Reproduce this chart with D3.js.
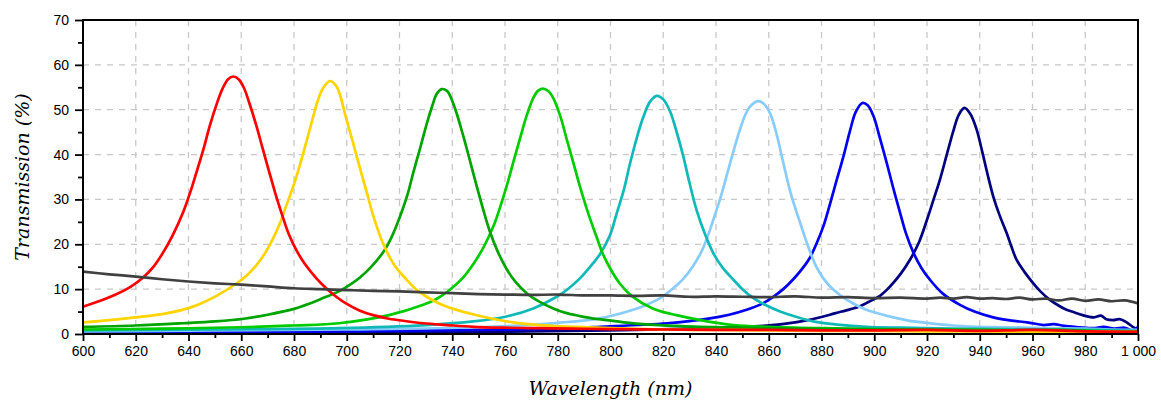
<!DOCTYPE html>
<html>
<head>
<meta charset="utf-8">
<script src="https://cdn.jsdelivr.net/npm/d3@7"></script>
<style>
  body { margin: 0; background: #fff; }
  svg { display: block; }
</style>
</head>
<body>
<div id="chart"></div>
<script>
// ---------------- data ----------------
const xTicks = [600,620,640,660,680,700,720,740,760,780,800,820,840,860,880,900,920,940,960,980,1000];
const xTickLabels = ["600","620","640","660","680","700","720","740","760","780","800","820","840","860","880","900","920","940","960","980","1 000"];
const yTicks = [0,10,20,30,40,50,60,70];
const yTickLabels = ["0","10","20","30","40","50","60","70"];
const xMinorTicks = [610,630,650,670,690,710,730,750,770,790,810,830,850,870,890,910,930,950,970,990];
const yMinorTicks = [5,15,25,35,45,55,65];

const seriesNames = ["navy","blue","lightblue","cyan","green2","green1","yellow","red","gray"];
const seriesColors = ["#00007f","#0000f0","#88ccfa","#10b8b8","#00cc00","#00a400","#ffd400","#ff0000","#404040"];

const navy = [[600,0.2],[700,0.3],[760,0.5],[800,0.8],[830,1.2],[858,1.8],[870,2.6],[880,3.8],[885,4.6],[890.8,5.5],[894.6,6.2],[898,7.2],[902.2,8.5],[906,10.6],[910,13.4],[913.6,16.6],[917,20.5],[919.9,25.3],[922.5,30],[925,34.6],[927.5,40],[930,45.3],[932,48.8],[934.2,50.4],[936.5,49],[938.8,45.6],[941,40.5],[943,35.5],[945.1,30.7],[947.5,26.5],[950.2,22.5],[952,19.5],[954,16.5],[957,13.8],[960.3,11.3],[963,9.5],[966.6,7.6],[970,6.3],[972.9,5.4],[976,4.8],[979,4.2],[983,3.7],[986,4.1],[988,3.3],[990.6,3.1],[993,3.3],[995.7,2.6],[998,1.6],[999.5,1.2],[1000,1.7]];
const blue = [[600,0.3],[650,0.4],[700,0.6],[750,0.9],[780,1.2],[796,1.6],[821.3,2.4],[837.7,3.5],[845,4.3],[851.6,5.4],[857,6.6],[861.7,8.3],[865.5,10],[869.3,12.2],[872.5,14.4],[875.6,17],[878,20],[880.7,24],[883,28.5],[885.8,34.4],[888.5,40],[890.8,45.3],[893,49.5],[895.5,51.5],[897.5,51],[899.7,48.6],[902,44],[904.7,38.2],[907,33],[909.8,27],[912,22.5],[914.8,18.2],[918,14.6],[921.1,12.1],[926,9],[932.5,6.5],[938,5],[945.1,3.7],[952,3.0],[958,2.6],[964.1,2.0],[968,2.2],[972,1.8],[978,1.5],[983,1.3],[987,1.6],[991,1.2],[995,1.4],[998,0.8],[1000,1.5]];
const lightblue = [[600,0.6],[650,0.8],[700,1.0],[750,1.5],[780,2.5],[796,3.5],[808.6,5.4],[814,6.6],[818.8,8.0],[823,9.8],[827.6,12.3],[831,14.9],[834,17.8],[836.5,21.2],[839,25.5],[841.5,30],[844,35.2],[846.5,40.5],[849.1,45.6],[851,48.7],[852.9,50.7],[855.9,51.9],[858,51.4],[860.5,49.2],[863,44.5],[865.5,38.2],[868.5,31],[871.9,24.8],[875,19.4],[878.2,14.8],[882,11.4],[887,8.7],[892,6.8],[897,5.4],[902,4.5],[907.2,3.7],[913,3.0],[919.9,2.5],[930,1.9],[938.8,1.6],[950,1.5],[967,1.3],[980,1.2],[990,1.0],[1000,0.9]];
const cyan = [[600,0.8],[650,1.0],[697,1.3],[730,2.0],[748,2.8],[760.6,3.9],[770.7,5.7],[779.6,8.3],[784,10.1],[788.4,12.4],[792,14.8],[796,17.8],[799.8,22],[802.3,26.8],[805,32],[807.4,38],[810,43.8],[812.4,48.3],[815,51.8],[817.5,53.1],[820,52.3],[822.6,49.6],[825,45.2],[827.6,39.6],[830,33.6],[832.7,27.5],[836,22],[839,18],[842.5,14.8],[846.6,12.1],[850,10],[854.2,8.0],[859,6.4],[864.3,5.0],[870,3.9],[876.9,2.8],[886,2.1],[897,1.6],[910,1.4],[930,1.2],[950,1.1],[970,1.0],[985,0.9],[1000,0.7]];
const green2 = [[600,1.0],[630,1.2],[660,1.5],[680,1.9],[697,2.4],[716,4.2],[729,6.5],[734,7.8],[739,9.8],[744,12.5],[748,15.6],[752,19.5],[755.6,24],[758,28],[760.6,32.9],[763,38],[765.7,43.6],[768,48.3],[770.7,52.6],[772.5,54.2],[774.3,54.7],[776.5,54.1],[778.3,52.6],[781,48.5],[783.4,43.4],[786,38],[788.4,32.9],[791.5,27],[794.8,21.5],[797,18],[800,14.5],[803.6,11.2],[808,8.5],[816,5.7],[825,4.2],[834,3.1],[846.6,2.0],[860,1.6],[880,1.3],[900,1.1],[920,1.0],[940,0.9],[960,0.8],[980,0.7],[1000,0.6]];
const green1 = [[600,1.6],[620,1.9],[638,2.4],[650,2.8],[661,3.4],[670,4.3],[680,5.6],[686,6.8],[691,8.0],[697,9.5],[702,11.3],[705,12.6],[709,14.8],[714,18.4],[717,21.6],[720.2,26.2],[723,31],[725.2,35.9],[728,41.8],[730.3,46.8],[732.5,51],[734.1,53.5],[736,54.6],[738,54.2],[739.1,53.2],[741.5,49.5],[744.2,44.1],[747,38],[749.3,32.9],[752,27.2],[754.3,22.8],[757,18.7],[760.6,14.5],[764,11.6],[768.2,9.1],[773,7.2],[778.3,5.7],[783,4.7],[788.4,4.0],[793,3.5],[798.6,3.1],[805,2.6],[815,2.1],[825,1.8],[834,1.6],[850,1.4],[870,1.2],[890,1.1],[910,1.0],[930,0.9],[950,0.8],[970,0.9],[985,0.6],[1000,0.5]];
const yellow = [[600,2.6],[610,3.1],[620,3.7],[631.6,4.6],[641.7,6.1],[650.6,8.5],[658,11.2],[662,13],[665.7,15.3],[669,18],[672,21.2],[675,25.2],[677,28.5],[680,33.4],[682.2,37.6],[685,43.5],[687.2,48.3],[689,52],[691,54.8],[693.6,56.4],[696,55.3],[697.4,53.4],[699.5,48.7],[702.5,42.4],[705,37],[707.6,31.5],[710.5,25.5],[713.9,20],[718,15.4],[722.7,12.1],[726,10.1],[730.3,8.3],[735,6.8],[740.4,5.6],[747,4.5],[754.3,3.5],[763,2.6],[773,2.0],[786,1.6],[800,1.3],[820,1.0],[840,0.9],[860,0.8],[880,0.7],[900,0.7],[920,0.6],[940,0.6],[960,0.5],[980,0.6],[1000,0.4]];
const red = [[600,6.1],[606,7.3],[612,8.7],[618,10.5],[623,12.7],[627,15.2],[630,17.8],[634,22],[638,27.2],[641,32.2],[643,36],[646,41.9],[648,46.3],[651,51.8],[653,54.8],[655,56.8],[657,57.4],[659,56.8],[661,54.9],[663,51.6],[665.7,46.5],[668,41.6],[670.8,35.7],[673,31.2],[675.8,26],[678,22.3],[681,18.6],[684,15.7],[688.5,12.4],[692,10.3],[696,8.3],[700,6.7],[705,5.2],[710,4.2],[716,3.4],[722,2.9],[729,2.4],[738,2.0],[748,1.6],[760,1.4],[773,1.3],[786,1.2],[800,1.1],[820,1.0],[840,0.9],[860,0.9],[880,0.8],[900,0.8],[920,0.9],[940,0.7],[960,0.9],[980,0.6],[1000,0.5]];
const gray = [[600,13.9],[610,13.3],[620,12.8],[630,12.2],[640,11.7],[650,11.3],[660,11.0],[670,10.6],[680,10.2],[690,10.0],[700,9.8],[710,9.6],[720,9.5],[730,9.3],[740,9.1],[750,8.9],[760,8.8],[770,8.7],[780,8.8],[790,8.6],[800,8.6],[810,8.5],[820,8.6],[830,8.3],[840,8.4],[850,8.3],[860,8.2],[870,8.4],[880,8.1],[890,8.2],[900,8.0],[910,8.1],[920,7.9],[925,8.1],[930,7.9],[935,8.2],[940,7.9],[945,8.0],[950,7.8],[955,8.1],[960,7.7],[965,7.9],[970,7.5],[975,7.9],[980,7.4],[985,7.7],[990,7.3],[995,7.5],[1000,6.8]];

const seriesData = [navy, blue, lightblue, cyan, green2, green1, yellow, red, gray];

const xTitle = "Wavelength (nm)";
const yTitle = "Transmission (%)";

// ---------------- drawing ----------------
const W = 1161, H = 403;
const margin = {left: 83, right: 23, top: 20, bottom: 69};
const iw = W - margin.left - margin.right;
const ih = H - margin.top - margin.bottom;

const x = d3.scaleLinear().domain([600, 1000]).range([0, iw]);
const y = d3.scaleLinear().domain([0, 70]).range([ih, 0]);

const svg = d3.select("#chart").append("svg").attr("width", W).attr("height", H);
const g = svg.append("g").attr("transform", `translate(${margin.left},${margin.top})`);

const defs = svg.append("defs");
defs.append("clipPath").attr("id", "clip").append("rect").attr("x", 0).attr("y", 0).attr("width", iw).attr("height", ih);

// grid
const grid = g.append("g").attr("stroke", "#c8c8c8").attr("stroke-width", 1.3).attr("stroke-dasharray", "6,6");
grid.selectAll("line.vx").data(xTicks.filter(t => t > 600 && t < 1000)).enter().append("line")
  .attr("x1", d => x(d)).attr("x2", d => x(d)).attr("y1", 0).attr("y2", ih);
grid.selectAll("line.hy").data(yTicks.filter(t => t > 0 && t < 70)).enter().append("line")
  .attr("y1", d => y(d)).attr("y2", d => y(d)).attr("x1", 0).attr("x2", iw);

// series
const line = d3.line().x(d => x(d[0])).y(d => y(d[1])).curve(d3.curveCatmullRom.alpha(0.5));
const plot = g.append("g").attr("clip-path", "url(#clip)");
seriesData.forEach((s, i) => {
  plot.append("path").datum(s)
    .attr("fill", "none")
    .attr("stroke", seriesColors[i])
    .attr("stroke-width", 2.7)
    .attr("stroke-linejoin", "round")
    .attr("d", line);
});

// axes
const fmtX = d => xTickLabels[xTicks.indexOf(d)];
const fmtY = d => yTickLabels[yTicks.indexOf(d)];

const xAxis = g.append("g").attr("transform", `translate(0,${ih})`)
  .call(d3.axisBottom(x).tickValues(xTicks).tickFormat(fmtX).tickSize(7).tickPadding(5));
const xMinor = g.append("g").attr("transform", `translate(0,${ih})`)
  .call(d3.axisBottom(x).tickValues(xMinorTicks).tickFormat("").tickSize(4));
const yAxis = g.append("g")
  .call(d3.axisLeft(y).tickValues(yTicks).tickFormat(fmtY).tickSize(8).tickPadding(6));
const yMinor = g.append("g")
  .call(d3.axisLeft(y).tickValues(yMinorTicks).tickFormat("").tickSize(5));

[xAxis, xMinor, yAxis, yMinor].forEach(a => {
  a.select(".domain").remove();
  a.selectAll(".tick line").attr("stroke", "#000").attr("stroke-width", 1.8);
  a.selectAll(".tick text").attr("fill", "#000")
    .style("font-family", "'Liberation Sans', Arial, sans-serif").style("font-size", "14px");
});

// frame
g.append("rect").attr("x", 0).attr("y", 0).attr("width", iw).attr("height", ih)
  .attr("fill", "none").attr("stroke", "#000").attr("stroke-width", 2);

// titles
svg.append("text")
  .attr("x", margin.left + iw / 2).attr("y", 395)
  .attr("text-anchor", "middle")
  .style("font-family", "'DejaVu Serif', serif").style("font-style", "italic").style("font-size", "19px")
  .text(xTitle);

svg.append("text")
  .attr("transform", `translate(29,${margin.top + ih / 2}) rotate(-90)`)
  .attr("text-anchor", "middle")
  .style("font-family", "'DejaVu Serif', serif").style("font-style", "italic").style("font-size", "19px")
  .text(yTitle);
</script>
</body>
</html>
